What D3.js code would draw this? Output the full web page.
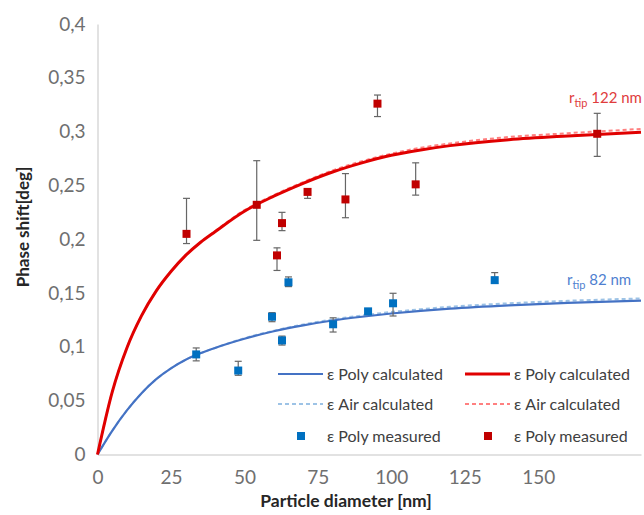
<!DOCTYPE html>
<html>
<head>
<meta charset="utf-8">
<script src="https://cdn.jsdelivr.net/npm/d3@7"></script>
<style>
  body { margin: 0; background: #fff; }
  text { font-family: Lato, "Open Sans", sans-serif; }
</style>
</head>
<body>
<svg width="644" height="515"></svg>
<script>
// curve samples (diameter nm -> phase shift deg)
const curveD = [0, 5, 10, 15, 20, 25, 30, 35, 40, 50, 60, 70, 80, 90, 100, 110, 120, 140, 160, 185];
const redPolyCalc  = [0, 0.058, 0.099, 0.129, 0.152, 0.170, 0.185, 0.197, 0.207, 0.226, 0.240, 0.252, 0.2625, 0.271, 0.278, 0.283, 0.287, 0.2925, 0.296, 0.2995];
const redAirCalc   = [0, 0.058, 0.099, 0.129, 0.152, 0.170, 0.185, 0.197, 0.2075, 0.227, 0.241, 0.253, 0.264, 0.2725, 0.2795, 0.285, 0.289, 0.295, 0.2985, 0.3025];
const bluePolyCalc = [0, 0.022, 0.041, 0.057, 0.070, 0.080, 0.088, 0.094, 0.099, 0.1075, 0.1145, 0.120, 0.1245, 0.128, 0.131, 0.1335, 0.1355, 0.1385, 0.1408, 0.143];
const blueAirCalc  = [0, 0.022, 0.041, 0.057, 0.070, 0.080, 0.088, 0.094, 0.099, 0.108, 0.115, 0.1208, 0.1255, 0.1292, 0.1324, 0.135, 0.1372, 0.1405, 0.1428, 0.145];

// measured points
const redD    = [30.3, 54.2, 61.1, 62.8, 71.5, 84.4, 95.3, 108.3, 170.1];
const redVal  = [0.205, 0.232, 0.185, 0.215, 0.244, 0.237, 0.326, 0.251, 0.298];
const redLow  = [0.196, 0.199, 0.171, 0.208, 0.238, 0.220, 0.314, 0.241, 0.277];
const redHigh = [0.238, 0.273, 0.192, 0.225, 0.247, 0.261, 0.334, 0.271, 0.317];

const blueD    = [33.6, 47.9, 59.4, 62.8, 65.0, 80.2, 92.1, 100.6, 135.2];
const blueVal  = [0.093, 0.078, 0.128, 0.106, 0.160, 0.121, 0.133, 0.1405, 0.162];
const blueLow  = [0.087, 0.0736, 0.1234, 0.1017, 0.156, 0.1138, 0.131, 0.1287, 0.159];
const blueHigh = [0.099, 0.0866, 0.1318, 0.110, 0.165, 0.127, 0.135, 0.1498, 0.169];

const xTicks = [0, 25, 50, 75, 100, 125, 150];
const yTicks = [0, 0.05, 0.1, 0.15, 0.2, 0.25, 0.3, 0.35, 0.4];

const svg = d3.select("svg");

const x = d3.scaleLinear().domain([0, 185]).range([97.5, 641]);
const y = d3.scaleLinear().domain([0, 0.4]).range([454.5, 24]);
const fmt = v => String(+v.toFixed(2)).replace(".", ",");

// axes
const xAxis = d3.axisBottom(x).tickValues(xTicks).tickSize(0).tickPadding(12).tickFormat(d => d);
const xg = svg.append("g").attr("transform", `translate(0,${y(0)})`).call(xAxis);
const yAxis = d3.axisLeft(y).tickValues(yTicks).tickSize(0).tickPadding(12).tickFormat(fmt);
const yg = svg.append("g").attr("transform", `translate(${x(0)},0)`).call(yAxis);
[xg, yg].forEach(g => {
  g.select(".domain").attr("stroke", "#d9d9d9").attr("stroke-width", 1.5);
  g.selectAll("text").attr("fill", "#6f6f6f").style("font-size", "19px");
});
xg.selectAll("text").attr("dy", "0.9em");

svg.append("text")
  .attr("x", 346).attr("y", 507)
  .attr("text-anchor", "middle")
  .attr("font-weight", "bold").style("font-size", "17.5px").attr("fill", "#262626")
  .text("Particle diameter [nm]");
svg.append("text")
  .attr("transform", "translate(29,227) rotate(-90)")
  .attr("text-anchor", "middle")
  .attr("font-weight", "bold").style("font-size", "17px").attr("fill", "#262626")
  .text("Phase shift[deg]");

// curves
const line = vals => d3.line()
  .x((d, i) => x(curveD[i]))
  .y((d, i) => y(vals[i]))
  .curve(d3.curveMonotoneX)(vals);

const curves = [
  { vals: blueAirCalc, color: "#9dc3e6", w: 2, dash: "4,3" },
  { vals: bluePolyCalc, color: "#4472c4", w: 2.2, dash: null },
  { vals: redAirCalc, color: "#ff8080", w: 2, dash: "4,3" },
  { vals: redPolyCalc, color: "#e00000", w: 3, dash: null }
];
curves.forEach(c => {
  svg.append("path")
    .attr("d", line(c.vals))
    .attr("fill", "none")
    .attr("stroke", c.color)
    .attr("stroke-width", c.w)
    .attr("stroke-dasharray", c.dash);
});

// measured points with error bars
const drawPoints = (ds, vals, lows, highs, color) => {
  const data = ds.map((d, i) => ({ d, v: vals[i], lo: lows[i], hi: highs[i] }));
  const g = svg.append("g");
  const eb = g.selectAll("g.eb").data(data).enter().append("g").attr("stroke", "#666").attr("stroke-width", 1.2);
  eb.append("line").attr("x1", p => x(p.d)).attr("x2", p => x(p.d)).attr("y1", p => y(p.lo)).attr("y2", p => y(p.hi));
  eb.append("line").attr("x1", p => x(p.d) - 3.5).attr("x2", p => x(p.d) + 3.5).attr("y1", p => y(p.lo)).attr("y2", p => y(p.lo));
  eb.append("line").attr("x1", p => x(p.d) - 3.5).attr("x2", p => x(p.d) + 3.5).attr("y1", p => y(p.hi)).attr("y2", p => y(p.hi));
  g.selectAll("rect").data(data).enter().append("rect")
    .attr("x", p => x(p.d) - 4).attr("y", p => y(p.v) - 4)
    .attr("width", 8).attr("height", 8)
    .attr("fill", color);
};
drawPoints(redD, redVal, redLow, redHigh, "#c00000");
drawPoints(blueD, blueVal, blueLow, blueHigh, "#0070c0");

// annotations
const note = (xp, yp, label, color) => {
  const t = svg.append("text").attr("x", xp).attr("y", yp).attr("fill", color).style("font-size", "15px");
  t.append("tspan").text("r");
  t.append("tspan").attr("dy", 4).style("font-size", "11px").text("tip");
  t.append("tspan").attr("dy", -4).text(" " + label);
};
note(569, 103, "122 nm", "#e03c3c");
note(567, 285, "82 nm", "#4f7fd0");

// legend
const legendRows = [
  [{ type: "line", color: "#4472c4", dash: null, w: 2.2, label: "ε Poly calculated" },
   { type: "line", color: "#e00000", dash: null, w: 3, label: "ε Poly calculated" }],
  [{ type: "line", color: "#9dc3e6", dash: "4,3", w: 2, label: "ε Air calculated" },
   { type: "line", color: "#ff8080", dash: "4,3", w: 2, label: "ε Air calculated" }],
  [{ type: "rect", color: "#0070c0", label: "ε Poly measured" },
   { type: "rect", color: "#c00000", label: "ε Poly measured" }]
];
const rowY = [374, 404, 436];
const colX = [278, 465];
legendRows.forEach((row, r) => {
  row.forEach((item, c) => {
    const lx = colX[c], ly = rowY[r];
    if (item.type === "line") {
      svg.append("line").attr("x1", lx).attr("x2", lx + 45).attr("y1", ly).attr("y2", ly)
        .attr("stroke", item.color).attr("stroke-width", item.w).attr("stroke-dasharray", item.dash);
    } else {
      svg.append("rect").attr("x", lx + 19).attr("y", ly - 4).attr("width", 8).attr("height", 8).attr("fill", item.color);
    }
    svg.append("text").attr("x", lx + 49).attr("y", ly).attr("dy", "0.35em")
      .attr("fill", "#404040").style("font-size", "16px").text(item.label);
  });
});
</script>
</body>
</html>
